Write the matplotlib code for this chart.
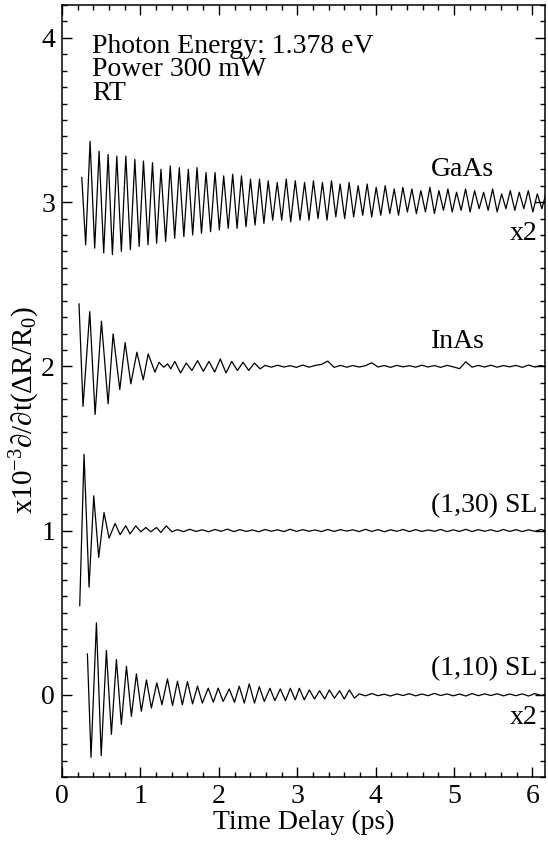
import numpy as np
import matplotlib
matplotlib.use("Agg")
import matplotlib.pyplot as plt
from matplotlib.ticker import MultipleLocator

# ====================================
# FONTS
# ====================================

plt.rcParams['font.family'] = ['Liberation Serif', 'DejaVu Serif']
plt.rcParams['mathtext.fontset'] = 'custom'
plt.rcParams['mathtext.rm'] = 'Liberation Serif'
plt.rcParams['mathtext.default'] = 'regular'

# ====================================
# DATA (extrema, ps / plotted units)
# ====================================

# GaAs (x2), offset 3
gaas_start = (0.252, 3.15)
gaas_trough_t = [0.302, 0.417, 0.532, 0.643, 0.757, 0.872, 0.984, 1.097, 1.207, 1.322,
                 1.437, 1.554, 1.667, 1.779, 1.895, 2.007, 2.120, 2.233, 2.347, 2.462,
                 2.575, 2.687, 2.802, 2.917, 3.035, 3.150, 3.265, 3.380, 3.492, 3.605,
                 3.720, 3.835, 3.950, 4.065, 4.180, 4.292, 4.405, 4.520, 4.635, 4.750,
                 4.865, 4.977, 5.090, 5.205, 5.320, 5.435, 5.550, 5.662, 5.775, 5.890,
                 6.005, 6.120]
gaas_trough_v = [2.74, 2.72, 2.69, 2.68, 2.70, 2.71, 2.73, 2.74, 2.75, 2.76,
                 2.78, 2.79, 2.80, 2.81, 2.82, 2.83, 2.84, 2.84, 2.85, 2.86,
                 2.87, 2.89, 2.89, 2.88, 2.89, 2.89, 2.90, 2.89, 2.91, 2.90,
                 2.91, 2.92, 2.91, 2.92, 2.93, 2.92, 2.94, 2.93, 2.94, 2.93,
                 2.95, 2.94, 2.95, 2.94, 2.96, 2.95, 2.94, 2.96, 2.95, 2.96,
                 2.94, 2.96]
gaas_peak_t = [0.358, 0.473, 0.588, 0.699, 0.814, 0.929, 1.039, 1.154, 1.262, 1.381,
               1.496, 1.611, 1.722, 1.837, 1.952, 2.062, 2.177, 2.289, 2.404, 2.519,
               2.630, 2.745, 2.860, 2.975, 3.094, 3.207, 3.322, 3.437, 3.547, 3.662,
               3.777, 3.892, 4.007, 4.122, 4.237, 4.347, 4.462, 4.577, 4.692, 4.807,
               4.922, 5.032, 5.147, 5.262, 5.377, 5.492, 5.607, 5.717, 5.832, 5.947,
               6.062, 6.177]
gaas_peak_v = [3.37, 3.31, 3.29, 3.28, 3.28, 3.26, 3.25, 3.24, 3.20, 3.22,
               3.21, 3.20, 3.21, 3.18, 3.18, 3.16, 3.17, 3.16, 3.14, 3.14,
               3.13, 3.12, 3.14, 3.13, 3.12, 3.13, 3.12, 3.13, 3.11, 3.12,
               3.10, 3.11, 3.09, 3.10, 3.08, 3.09, 3.08, 3.07, 3.09, 3.07,
               3.08, 3.06, 3.08, 3.07, 3.06, 3.08, 3.05, 3.07, 3.06, 3.07,
               3.05, 3.06]

# InAs, offset 2
inas_t = [0.217, 0.268, 0.354, 0.422, 0.503, 0.588, 0.652, 0.737, 0.805, 0.878,
          0.955, 1.036, 1.099, 1.185, 1.237, 1.297, 1.347, 1.387, 1.439, 1.512,
          1.584, 1.657, 1.729, 1.802, 1.874, 1.947, 2.019, 2.092, 2.164, 2.237,
          2.309, 2.382, 2.454, 2.527]
inas_v = [2.38, 1.756, 2.333, 1.707, 2.275, 1.772, 2.198, 1.859, 2.145, 1.894,
          2.086, 1.918, 2.076, 1.965, 2.025, 1.995, 2.015, 1.985, 2.03, 1.96,
          2.02, 1.975, 2.035, 1.97, 2.03, 1.965, 2.045, 1.96, 2.03, 1.975,
          2.025, 1.975, 2.02, 1.985]

# (1,30) SL, offset 1
sl30_t = [0.226, 0.281, 0.345, 0.405, 0.468, 0.536, 0.60, 0.677, 0.741, 0.813,
          0.868, 0.941, 1.005, 1.069, 1.132, 1.205, 1.26, 1.33, 1.40]
sl30_v = [0.543, 1.465, 0.656, 1.212, 0.837, 1.11, 0.954, 1.044, 0.975, 1.03,
          0.98, 1.029, 0.993, 1.019, 0.993, 1.019, 0.989, 1.029, 0.993]

# (1,10) SL (x2), offset 0
sl10_t = [0.324, 0.37, 0.439, 0.50, 0.566, 0.63, 0.694, 0.757, 0.822, 0.885,
          0.949, 1.012, 1.077, 1.14, 1.209, 1.275, 1.345, 1.41, 1.473, 1.535,
          1.60, 1.665, 1.728, 1.79, 1.865, 1.93, 1.992, 2.055, 2.133, 2.2,
          2.26, 2.325, 2.388, 2.455, 2.516, 2.58, 2.652, 2.715, 2.784, 2.85,
          2.912, 2.975, 3.027, 3.09, 3.155, 3.22, 3.285, 3.35, 3.41, 3.475,
          3.54, 3.60, 3.665, 3.73]
sl10_v = [0.249, -0.38, 0.438, -0.37, 0.27, -0.24, 0.215, -0.18, 0.174, -0.13,
          0.128, -0.10, 0.091, -0.08, 0.073, -0.06, 0.097, -0.065, 0.083, -0.06,
          0.081, -0.055, 0.053, -0.05, 0.041, -0.045, 0.041, -0.04, 0.036, -0.045,
          0.053, -0.05, 0.067, -0.05, 0.05, -0.04, 0.04, -0.035, 0.036, -0.035,
          0.04, -0.03, 0.04, -0.03, 0.03, -0.025, 0.025, -0.025, 0.03, -0.02,
          0.025, -0.025, 0.03, -0.02]

# noisy tails, shared delay grid
tail_t = [1.47, 1.55, 1.63, 1.71, 1.79, 1.87, 1.95, 2.03, 2.11, 2.19,
          2.27, 2.35, 2.43, 2.51, 2.59, 2.67, 2.75, 2.83, 2.91, 2.99,
          3.07, 3.15, 3.23, 3.31, 3.39, 3.47, 3.55, 3.63, 3.71, 3.79,
          3.87, 3.95, 4.03, 4.11, 4.19, 4.27, 4.35, 4.43, 4.51, 4.59,
          4.67, 4.75, 4.83, 4.91, 4.99, 5.07, 5.15, 5.23, 5.31, 5.39,
          5.47, 5.55, 5.63, 5.71, 5.79, 5.87, 5.95, 6.03, 6.11, 6.19]
sl30_tail = [1.006, 0.994, 1.008, 0.995, 1.005, 0.993, 1.007, 0.996, 1.009, 0.994,
             1.006, 0.995, 1.004, 0.993, 1.007, 0.996, 1.005, 0.994, 1.008, 0.995,
             1.006, 0.996, 1.004, 0.994, 1.007, 0.995, 1.006, 0.997, 1.005, 0.994,
             1.008, 0.995, 1.006, 0.993, 1.005, 0.996, 1.007, 0.994, 1.006, 0.995,
             1.004, 0.996, 1.007, 0.994, 1.005, 0.995, 1.008, 0.994, 1.006, 0.996,
             1.005, 0.994, 1.007, 0.995, 1.006, 0.994, 1.005, 0.996, 1.007, 0.995]
inas_tail = [2.006, 1.995, 2.007, 1.996, 2.004, 1.994, 2.008, 1.995, 2.006, 2.012,
             2.032, 1.994, 2.006, 1.995, 2.005, 1.996, 2.004, 2.022, 1.996, 2.005,
             1.994, 2.006, 1.997, 2.004, 1.995, 2.007, 1.996, 2.005, 1.994, 2.006,
             1.997, 1.986, 2.028, 1.995, 2.006, 1.996, 2.007, 1.995, 2.005, 1.997,
             2.006, 1.994, 2.008, 1.996, 2.005, 1.995]
sl10_tail = [0.006, -0.006, 0.008, -0.005, 0.004, -0.007, 0.006, -0.004, 0.007, -0.006,
             0.005, -0.005, 0.009, -0.004, 0.006, -0.006, 0.005, -0.007, 0.008, -0.005,
             0.006, -0.004, 0.007, -0.006, 0.005, -0.005, 0.006, -0.007, 0.008, -0.004,
             0.005]

labels = ['GaAs', 'InAs', '(1,30) SL', '(1,10) SL']
notes = ['Photon Energy: 1.378 eV', 'Power 300 mW', 'RT']

# ====================================
# BUILD TRACES
# ====================================

tail_t = np.array(tail_t)

gaas_x = np.concatenate([[gaas_start[0]],
                         np.column_stack([gaas_trough_t, gaas_peak_t]).ravel()])
gaas_y = np.concatenate([[gaas_start[1]],
                         np.column_stack([gaas_trough_v, gaas_peak_v]).ravel()])

inas_x = np.concatenate([inas_t, tail_t[-len(inas_tail):]])
inas_y = np.concatenate([inas_v, inas_tail])

sl30_x = np.concatenate([sl30_t, tail_t[-len(sl30_tail):]])
sl30_y = np.concatenate([sl30_v, sl30_tail])

sl10_x = np.concatenate([sl10_t, tail_t[-len(sl10_tail):]])
sl10_y = np.concatenate([sl10_v, sl10_tail])

# ====================================
# PLOT
# ====================================

fig = plt.figure(figsize=(5.48, 8.43), dpi=100)
ax = fig.add_axes([62 / 548, 66 / 843, 483 / 548, 772 / 843])

for x, y in [(gaas_x, gaas_y), (inas_x, inas_y), (sl30_x, sl30_y), (sl10_x, sl10_y)]:
    ax.plot(x, y, color='black', lw=0.9)

ax.set_xlim(0, 6.16)
ax.set_ylim(-0.5, 4.2)

ax.xaxis.set_major_locator(MultipleLocator(1))
ax.xaxis.set_minor_locator(MultipleLocator(0.2))
ax.yaxis.set_major_locator(MultipleLocator(1))
ax.yaxis.set_minor_locator(MultipleLocator(0.1))

ax.tick_params(which='both', direction='in', top=True, right=True,
               labelsize=20, width=1)
ax.tick_params(which='major', length=7.5, pad=5)
ax.tick_params(which='minor', length=3.8)

for s in ax.spines.values():
    s.set_linewidth(1.1)

ax.set_xlabel('Time Delay (ps)', fontsize=20, labelpad=1)
ax.set_ylabel(r'x10$^{-3}$∂/∂t(ΔR/R$_0$)', fontsize=21)
ax.yaxis.set_label_coords(-0.041, 0.475)

# annotations
for txt, yy in zip(notes, [3.909, 3.765, 3.623]):
    ax.text(0.383, yy, txt, fontsize=20, va='baseline', ha='left')

ax.text(5.505, 3.157, labels[0], fontsize=20, ha='right', va='baseline')
ax.text(6.066, 2.768, 'x2', fontsize=20, ha='right', va='baseline')
ax.text(5.39, 2.113, labels[1], fontsize=20, ha='right', va='baseline')
ax.text(6.066, 1.11, labels[2], fontsize=20, ha='right', va='baseline')
ax.text(6.066, 0.12, labels[3], fontsize=20, ha='right', va='baseline')
ax.text(6.066, -0.176, 'x2', fontsize=20, ha='right', va='baseline')

fig.savefig('out.png', dpi=100)
